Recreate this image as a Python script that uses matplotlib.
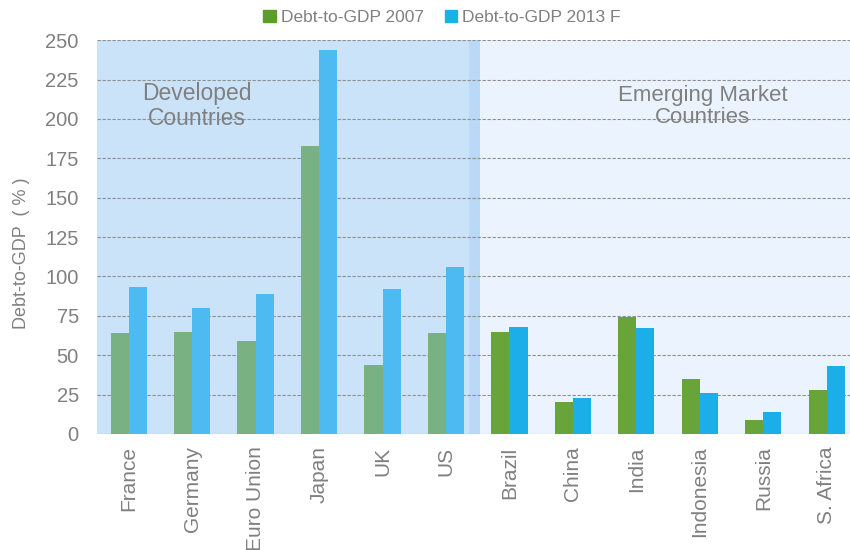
import numpy as np
import matplotlib.pyplot as plt
from matplotlib.patches import Patch

plt.rcParams['font.family'] = ['Liberation Sans', 'DejaVu Sans']

countries = ['France', 'Germany', 'Euro Union', 'Japan', 'UK', 'US',
             'Brazil', 'China', 'India', 'Indonesia', 'Russia', 'S. Africa']
debt_2007 = [64, 65, 59, 183, 44, 64, 65, 20, 74, 35, 9, 28]
debt_2013 = [93, 80, 89, 244, 92, 106, 68, 23, 67, 26, 14, 43]
n_developed = 6

gray = '#808080'
x = np.arange(len(countries))
w = 0.285

fig = plt.figure(figsize=(8.5, 5.5), dpi=100)
ax = fig.add_axes([0.114, 0.211, 0.896, 0.716])

# shaded regions behind the bars
ax.axvspan(-0.5, n_developed - 0.47, color='#cae3f9', zorder=0, lw=0)
ax.axvspan(n_developed - 0.63, n_developed - 0.47, color='#b9d9f6', zorder=0, lw=0)
ax.axvspan(n_developed - 0.47, len(countries) - 0.5, color='#ebf4fe', zorder=0, lw=0)

green = ['#79b182'] * n_developed + ['#69a43a'] * (len(countries) - n_developed)
blue = ['#4dbaf2'] * n_developed + ['#1caee8'] * (len(countries) - n_developed)
ax.bar(x - w / 2, debt_2007, w, color=green, zorder=3)
ax.bar(x + w / 2, debt_2013, w, color=blue, zorder=3)

ax.set_ylim(0, 250)
ax.set_xlim(-0.5, len(countries) - 0.5)
ax.set_yticks(np.arange(0, 251, 25))
ax.yaxis.grid(True, linestyle=(0, (3, 1.5)), color='#8f8f8f', lw=0.8, zorder=2)
ax.set_axisbelow(False)
ax.tick_params(axis='y', length=0, pad=13, labelsize=14.5, labelcolor=gray)
ax.set_xticks(x)
ax.set_xticklabels(countries, rotation=90, fontsize=15, color=gray)
ax.tick_params(axis='x', length=0, pad=9)
for s in ax.spines.values():
    s.set_visible(False)
ax.set_ylabel('Debt-to-GDP  ( % )', fontsize=13, color=gray)
ax.yaxis.set_label_coords(-0.088, 0.46)

ax.text(1.07, 208, 'Developed\nCountries', ha='center', va='center',
        fontsize=16.5, color=gray, zorder=4, linespacing=1.1)
ax.text(9.04, 208, 'Emerging Market\nCountries', ha='center', va='center',
        fontsize=16, color=gray, zorder=4, linespacing=1.1)

handles = [Patch(color='#5c9e2a'), Patch(color='#1ab0e8')]
fig.legend(handles, ['Debt-to-GDP 2007', 'Debt-to-GDP 2013 F'],
           loc='center', bbox_to_anchor=(0.52, 0.968), ncol=2, frameon=False,
           fontsize=12.5, handlelength=0.7, handleheight=0.7, handletextpad=0.3,
           columnspacing=1.2, labelcolor=gray)

fig.savefig('out.png', dpi=100)
